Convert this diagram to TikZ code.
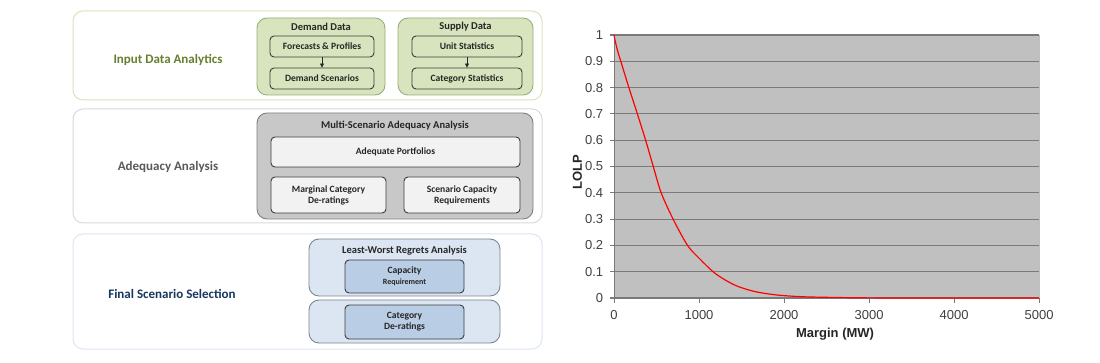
\documentclass[tikz,border=0pt]{standalone}
\usepackage{fontspec}
\setmainfont{Carlito}
\newfontfamily\arialf{Liberation Sans}
\usetikzlibrary{arrows.meta}
\definecolor{gOuter}{HTML}{D7E4BD}
\definecolor{gFill}{HTML}{D7E4BD}
\definecolor{gBorder}{HTML}{9AAE78}
\definecolor{gLabel}{HTML}{66802F}
\definecolor{kOuter}{HTML}{D9D9D9}
\definecolor{kFill}{HTML}{C8C8C8}
\definecolor{kBorder}{HTML}{7F7F7F}
\definecolor{kInner}{HTML}{F2F2F2}
\definecolor{kLabel}{HTML}{595959}
\definecolor{bOuter}{HTML}{DCE6F2}
\definecolor{bFill}{HTML}{DCE6F2}
\definecolor{bBorder}{HTML}{7A8796}
\definecolor{bInner}{HTML}{B9CDE5}
\definecolor{bLabel}{HTML}{17375E}
\definecolor{txt}{HTML}{262626}
\definecolor{plotbg}{HTML}{C0C0C0}
\definecolor{grid}{HTML}{7A7A7A}
\definecolor{ticktxt}{HTML}{404040}
\tikzset{
  outerbox/.style={draw=#1, line width=1pt, fill=white, rounded corners=10pt, inner sep=0pt},
  groupbox/.style={rounded corners=10pt, inner sep=0pt, line width=0.9pt},
  innerbox/.style={draw=txt!90, line width=0.9pt, rounded corners=4pt, inner sep=0pt,
     align=center, font=\bfseries\fontsize{9.6}{11}\selectfont, text=txt},
  grouptitle/.style={font=\bfseries\fontsize{10.5}{12}\selectfont, text=txt, inner sep=0pt},
  sidelabel/.style={font=\bfseries\fontsize{13}{15}\selectfont, inner sep=0pt},
  ticklbl/.style={font=\arialf\fontsize{13}{14}\selectfont, text=ticktxt, inner sep=0pt},
}
\begin{document}
\begin{tikzpicture}[x=1pt,y=-1pt]
\useasboundingbox (0,0) rectangle (1100,363);
% ---------- Row 1: Input Data Analytics
\node[outerbox=gOuter, minimum width=469pt, minimum height=89pt] (row1) at (307.5,55.5) {};
\node[sidelabel, text=gLabel] (lab1) at (168,60) {Input Data Analytics};
\node[groupbox, draw=gBorder, fill=gFill, minimum width=128pt, minimum height=77pt] (dgrp) at (321,56.5) {};
\node[grouptitle] (dtitle) at (321,27) {Demand Data};
\node[innerbox, fill=gFill, minimum width=104pt, minimum height=21pt] (fp) at (322,46.5) {Forecasts \& Profiles};
\node[innerbox, fill=gFill, minimum width=104pt, minimum height=21pt] (ds) at (322,78.5) {Demand Scenarios};
\node[groupbox, draw=gBorder, fill=gFill, minimum width=135pt, minimum height=77pt] (sgrp) at (465.5,56.5) {};
\node[grouptitle] (stitle) at (465.5,27) {Supply Data};
\node[innerbox, fill=gFill, minimum width=110pt, minimum height=21pt] (us) at (467,46.5) {Unit Statistics};
\node[innerbox, fill=gFill, minimum width=110pt, minimum height=21pt] (cs) at (467,78.5) {Category Statistics};
\draw[-{Triangle[length=4pt,width=4pt]}, line width=0.7pt, txt] (fp) -- (ds);
\draw[-{Triangle[length=4pt,width=4pt]}, line width=0.7pt, txt] (us) -- (cs);
% ---------- Row 2: Adequacy Analysis
\node[outerbox=kOuter, minimum width=469pt, minimum height=114pt] (row2) at (307.5,166) {};
\node[sidelabel, text=kLabel] (lab2) at (168,167) {Adequacy Analysis};
\node[groupbox, draw=kBorder, fill=kFill, minimum width=276pt, minimum height=106pt] (mgrp) at (395,166) {};
\node[grouptitle] (mtitle) at (395,126) {Multi-Scenario Adequacy Analysis};
\node[innerbox, fill=kInner, minimum width=249pt, minimum height=30pt] (ap) at (395.5,152) {Adequate Portfolios};
\node[innerbox, fill=kInner, minimum width=115pt, minimum height=36pt] (mcd) at (328.5,195) {Marginal Category\\De-ratings};
\node[innerbox, fill=kInner, minimum width=116pt, minimum height=36pt] (scr) at (462,195) {Scenario Capacity\\Requirements};
% ---------- Row 3: Final Scenario Selection
\node[outerbox=bOuter, minimum width=469pt, minimum height=115pt] (row3) at (307.5,291.5) {};
\node[sidelabel, text=bLabel] (lab3) at (172,294) {Final Scenario Selection};
\node[groupbox, draw=bBorder, fill=bFill, minimum width=191pt, minimum height=57pt] (lgrp) at (404.5,267.5) {};
\node[grouptitle] (ltitle) at (404.5,251) {Least-Worst Regrets Analysis};
\node[innerbox, fill=bInner, minimum width=119pt, minimum height=33pt] (cr) at (404.5,276.5) {Capacity\\{\fontsize{8}{9}\selectfont Requirement}};
\node[groupbox, draw=bBorder, fill=bFill, minimum width=191pt, minimum height=43pt] (lgrp2) at (404.5,321.5) {};
\node[innerbox, fill=bInner, minimum width=119pt, minimum height=34pt] (cd) at (404.5,322) {Category\\De-ratings};
% ---------- Chart
\begin{scope}[xshift=614pt, yshift=-298pt, x=0.085pt, y=263pt]
  \fill[plotbg] (0,0) rectangle (5000,1);
  \draw[line width=0.5pt, black!25] (5000,0) -- (5000,1);
  \foreach \v in {0.1,0.2,...,1.0} {
    \draw[grid, line width=1.1pt] (-50,\v) -- (5000,\v);
  }
  \draw[grid, line width=1.1pt] (-50,0) -- (5000,0);
  \draw[grid, line width=1pt] (0,0) -- (0,1);
  \foreach \t in {0,1000,...,5000} {
    \draw[grid, line width=0.8pt] (\t,0) -- (\t,-0.02);
    \node[ticklbl, anchor=north] (xt\t) at (\t,-0.045) {\t};
  }
  \foreach \v/\s in {0/0,0.1/0.1,0.2/0.2,0.3/0.3,0.4/0.4,0.5/0.5,0.6/0.6,0.7/0.7,0.8/0.8,0.9/0.9,1/1} {
    \node[ticklbl, anchor=east] (yt\s) at (-125,\v) {\s};
  }
  \draw[red, line width=1.2pt, line join=round] plot[smooth, tension=0.5] coordinates {
    (0,1) (12,0.98) (42,0.94) (80,0.9) (175,0.8) (275,0.7) (372,0.6) (462,0.5) (555,0.4)
    (695,0.3) (865,0.2) (1005,0.15) (1165,0.1) (1300,0.07) (1450,0.045)
    (1650,0.025) (1900,0.012) (2200,0.005) (2600,0.002) (3000,0.0005) (3500,0) (5000,0)};
  \node[font=\arialf\bfseries\fontsize{13}{14}\selectfont, text=txt, inner sep=0pt] (xlab) at (2600,-0.137) {Margin (MW)};
  \node[font=\arialf\bfseries\fontsize{13}{14}\selectfont, text=txt, inner sep=0pt, rotate=90] (ylab) at (-430,0.48) {LOLP};
\end{scope}
\end{tikzpicture}
\end{document}
